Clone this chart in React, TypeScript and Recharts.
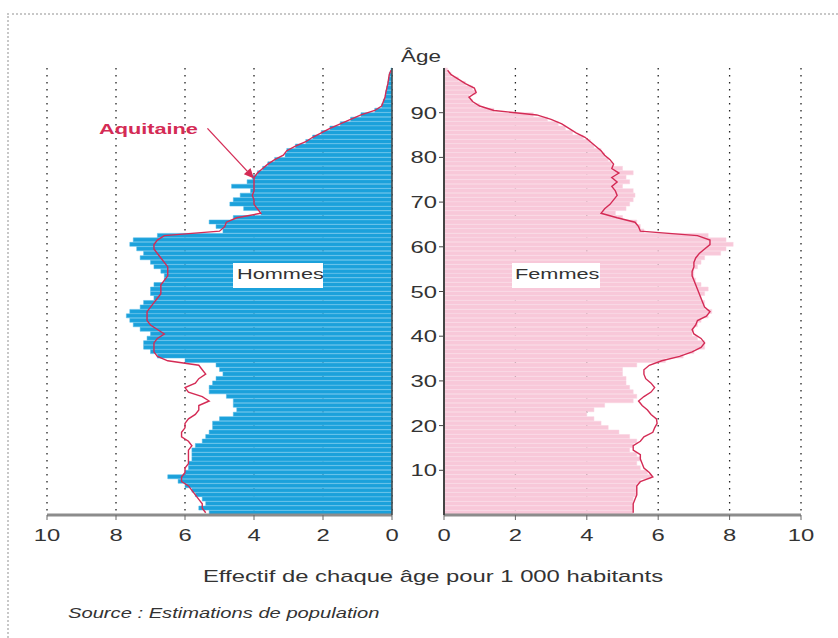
import {
  ComposedChart,
  Bar,
  Line,
  XAxis,
  YAxis,
  CartesianGrid,
  ReferenceLine,
} from "recharts";

// effectif pour 1 000 habitants, index = âge (0 à 99)
const hommes = [
  5.3, 5.6, 5.4, 5.5, 5.7, 5.8, 6.0, 6.2, 6.5, 6.0,
  5.9, 5.9, 5.8, 5.8, 5.8, 5.7, 5.5, 5.4, 5.3, 5.2,
  5.2, 5.0, 4.6, 4.5, 4.6, 4.6, 4.8, 5.3, 5.3, 5.2,
  5.1, 4.9, 5.0, 5.1, 6.0, 6.8, 7.0, 7.2, 7.2, 7.1,
  7.0, 7.3, 7.5, 7.6, 7.7, 7.6, 7.3, 7.2, 6.9, 7.0,
  7.0, 6.9, 6.6, 6.6, 6.7, 6.9, 7.0, 7.3, 7.2, 7.4,
  7.6, 7.5, 6.8, 4.9, 5.1, 5.3, 4.6, 3.8, 4.3, 4.7,
  4.6, 4.4, 4.1, 4.65, 4.2, 4.05, 3.9, 3.75, 3.6, 3.4,
  3.1, 3.05, 2.8, 2.5, 2.3, 2.05, 1.8, 1.5, 1.2, 0.9,
  0.5, 0.3, 0.25, 0.2, 0.18, 0.15, 0.12, 0.1, 0.08, 0.03,
];

const aquitaineHommes = [
  5.4, 5.5, 5.5, 5.6, 5.7, 5.8, 5.9, 6.1, 6.1, 6.0,
  6.0, 5.9, 5.9, 5.9, 5.9, 5.8, 5.9, 6.1, 6.1, 6.0,
  6.0, 5.9, 5.7, 5.6, 5.6, 5.3, 5.5, 5.9, 6.0, 5.7,
  5.6, 5.4, 5.5, 5.6, 6.5, 6.8, 6.9, 6.9, 6.9, 6.8,
  6.6, 6.8, 7.0, 7.1, 7.1, 7.1, 7.0, 6.9, 6.8, 6.7,
  6.7, 6.7, 6.6, 6.5, 6.5, 6.5, 6.6, 6.7, 6.8, 6.9,
  6.9, 6.8, 6.6, 5.0, 4.85, 4.8, 4.5, 3.8, 3.9, 4.0,
  4.0, 4.05, 4.0, 4.0, 4.0, 4.0, 3.9, 3.75, 3.6, 3.4,
  3.15, 3.05, 2.8, 2.5, 2.3, 2.05, 1.8, 1.5, 1.2, 0.9,
  0.5, 0.3, 0.25, 0.2, 0.18, 0.15, 0.12, 0.1, 0.08, 0.03,
];

const femmes = [
  5.3, 5.3, 5.3, 5.3, 5.4, 5.4, 5.4, 5.5, 5.8, 5.7,
  5.5, 5.4, 5.5, 5.4, 5.2, 5.3, 5.4, 5.2, 4.9, 4.6,
  4.4, 4.2, 4.0, 4.2, 4.5, 5.3, 5.4, 5.3, 5.2, 5.1,
  5.1, 5.0, 5.0, 5.4, 6.2, 6.7, 7.0, 7.3, 7.3, 7.1,
  6.95, 7.0, 7.1, 7.2, 7.4, 7.5, 7.3, 7.3, 7.2, 7.3,
  7.4, 7.2, 7.05, 7.0, 7.0, 7.1, 7.2, 7.3, 7.75, 7.9,
  8.1, 7.9, 7.4, 5.6, 5.5, 5.4, 5.0, 4.8, 5.1, 5.2,
  5.3, 5.35, 5.3, 5.0, 5.2, 5.1, 5.3, 5.0, 4.7, 4.6,
  4.5, 4.4, 4.2, 4.1, 3.9, 3.6, 3.4, 3.2, 2.9, 2.5,
  1.4, 1.0, 0.8, 0.7, 0.9, 0.8, 0.6, 0.4, 0.2, 0.1,
];

const aquitaineFemmes = [
  5.3, 5.3, 5.3, 5.35, 5.4, 5.4, 5.4, 5.5, 5.85, 5.75,
  5.6, 5.55, 5.5, 5.5, 5.3, 5.3, 5.5, 5.6, 5.85, 5.9,
  5.97, 5.95, 5.8, 5.7, 5.55, 5.45, 5.6, 5.8, 5.9, 5.8,
  5.65, 5.6, 5.6, 5.75, 6.1, 6.6, 6.95, 7.2, 7.3, 7.2,
  7.0, 6.95, 7.05, 7.1, 7.35, 7.45, 7.3, 7.25, 7.2, 7.15,
  7.1, 7.05, 7.0, 6.95, 6.95, 7.0, 7.0, 7.05, 7.15, 7.3,
  7.45, 7.45, 7.1, 5.5, 5.45, 5.35, 4.85, 4.4, 4.5, 4.65,
  4.75, 4.85, 4.8, 4.7, 4.85, 4.7, 4.9, 4.7, 4.75, 4.65,
  4.5, 4.4, 4.25, 4.1, 3.95, 3.7, 3.5, 3.3, 3.0, 2.6,
  1.4, 1.0, 0.8, 0.7, 0.9, 0.85, 0.6, 0.4, 0.2, 0.1,
];

const valueTicks = [0, 2, 4, 6, 8, 10];
const ageTicks = [10, 20, 30, 40, 50, 60, 70, 80, 90];

const rows = hommes.map((h, i) => ({
  age: i + 0.5,
  hommes: h,
  aqH: aquitaineHommes[i],
  femmes: femmes[i],
  aqF: aquitaineFemmes[i],
}));

const FONT = "'Liberation Sans', Arial, Helvetica, sans-serif";
const STRETCH = 1.4;
const RED = "#d42b55";

const XTick = ({ x, y, payload }: any) => (
  <g transform={`translate(${x},${y})`}>
    <text
      transform={`scale(${STRETCH},1)`}
      textAnchor="middle"
      dy={19}
      fontSize={17}
      fontFamily={FONT}
      fill="#333"
    >
      {payload.value}
    </text>
  </g>
);

const AgeTick = ({ x, y, payload }: any) => (
  <g transform={`translate(${x},${y})`}>
    <text
      transform={`scale(${STRETCH},1)`}
      textAnchor="end"
      dy={6}
      fontSize={17}
      fontFamily={FONT}
      fill="#333"
    >
      {payload.value}
    </text>
  </g>
);

const Arrow = (props: any) => {
  const { x1, y1, x2, y2 } = props;
  const a = Math.atan2(y2 - y1, x2 - x1);
  const L = 10;
  const W = 4.5;
  const bx = x2 - L * Math.cos(a);
  const by = y2 - L * Math.sin(a);
  const px = -Math.sin(a) * W;
  const py = Math.cos(a) * W;
  return (
    <g>
      <line x1={x1} y1={y1} x2={bx} y2={by} stroke={RED} strokeWidth={1.3} />
      <polygon
        points={`${x2},${y2} ${bx + px},${by + py} ${bx - px},${by - py}`}
        fill={RED}
      />
    </g>
  );
};

const label = (extra: React.CSSProperties): React.CSSProperties => ({
  position: "absolute",
  fontFamily: FONT,
  transform: `scaleX(${STRETCH})`,
  transformOrigin: "left center",
  whiteSpace: "nowrap",
  ...extra,
});

export default function App() {
  return (
    <div
      style={{
        position: "relative",
        width: 838,
        height: 638,
        background: "#fff",
        overflow: "hidden",
      }}
    >
      <style>{`body{margin:0}`}</style>
      <div
        style={{
          position: "absolute",
          left: 7,
          top: 13,
          right: 0,
          bottom: 0,
          borderTop: "2px dotted #c8c8c8",
          borderLeft: "2px dotted #c8c8c8",
        }}
      />

      {/* Hommes */}
      <div style={{ position: "absolute", left: 0, top: 0 }}>
        <ComposedChart
          width={400}
          height={560}
          data={rows}
          layout="vertical"
          barCategoryGap={0}
          margin={{ top: 68, right: 0, bottom: 10, left: 47 }}
        >
          <CartesianGrid
            horizontal={false}
            stroke="#222"
            strokeDasharray="1.5 5.5"
            strokeWidth={1.3}
          />
          <XAxis
            type="number"
            domain={[0, 10]}
            ticks={valueTicks}
            reversed
            height={35}
            axisLine={{ stroke: "#8c8c8c", strokeWidth: 3 }}
            tickLine={{ stroke: "#666" }}
            tickSize={5}
            tick={<XTick />}
            interval={0}
          />
          <YAxis
            type="number"
            dataKey="age"
            domain={[0, 100]}
            ticks={ageTicks}
            reversed
            orientation="right"
            width={8}
            axisLine={{ stroke: "#444", strokeWidth: 1.5 }}
            tickLine={{ stroke: "#444" }}
            tickSize={5}
            tick={false}
          />
          <Bar
            dataKey="hommes"
            fill="#1ba1db"
            stroke="#4fb9e6"
            strokeWidth={0.5}
            isAnimationActive={false}
          />
          <Line
            dataKey="aqH"
            type="linear"
            stroke={RED}
            strokeWidth={1.4}
            dot={false}
            isAnimationActive={false}
          />
          <ReferenceLine
            segment={[
              { x: 5.35, y: 86.5 },
              { x: 4.0, y: 75.3 },
            ]}
            shape={<Arrow />}
          />
        </ComposedChart>
      </div>

      {/* Femmes */}
      <div style={{ position: "absolute", left: 390, top: 0 }}>
        <ComposedChart
          width={448}
          height={560}
          data={rows}
          layout="vertical"
          barCategoryGap={0}
          margin={{ top: 68, right: 37, bottom: 10, left: 0 }}
        >
          <CartesianGrid
            horizontal={false}
            stroke="#222"
            strokeDasharray="1.5 5.5"
            strokeWidth={1.3}
          />
          <XAxis
            type="number"
            domain={[0, 10]}
            ticks={valueTicks}
            height={35}
            axisLine={{ stroke: "#8c8c8c", strokeWidth: 3 }}
            tickLine={{ stroke: "#666" }}
            tickSize={5}
            tick={<XTick />}
            interval={0}
          />
          <YAxis
            type="number"
            dataKey="age"
            domain={[0, 100]}
            ticks={ageTicks}
            reversed
            width={54}
            axisLine={{ stroke: "#444", strokeWidth: 2 }}
            tickLine={{ stroke: "#444" }}
            tickSize={5}
            tickMargin={2}
            tick={<AgeTick />}
          />
          <Bar
            dataKey="femmes"
            fill="#f8c8d9"
            stroke="#f9d2e0"
            strokeWidth={0.5}
            isAnimationActive={false}
          />
          <Line
            dataKey="aqF"
            type="linear"
            stroke={RED}
            strokeWidth={1.4}
            dot={false}
            isAnimationActive={false}
          />
        </ComposedChart>
      </div>

      <div style={label({ left: 401, top: 48, fontSize: 16, color: "#333" })}>
        Âge
      </div>
      <div
        style={label({
          left: 99,
          top: 120,
          fontSize: 15.5,
          fontWeight: "bold",
          color: RED,
        })}
      >
        Aquitaine
      </div>
      <div
        style={{
          position: "absolute",
          left: 233,
          top: 263,
          width: 90,
          height: 25,
          background: "#fff",
        }}
      />
      <div style={label({ left: 237, top: 265, fontSize: 15.5, color: "#333" })}>
        Hommes
      </div>
      <div
        style={{
          position: "absolute",
          left: 512,
          top: 263,
          width: 88,
          height: 25,
          background: "#fff",
        }}
      />
      <div style={label({ left: 515, top: 265, fontSize: 15.5, color: "#333" })}>
        Femmes
      </div>
      <div style={label({ left: 203, top: 567, fontSize: 17, color: "#333" })}>
        Effectif de chaque âge pour 1 000 habitants
      </div>
      <div
        style={label({
          left: 68,
          top: 604,
          fontSize: 15.5,
          fontStyle: "italic",
          color: "#333",
          transform: "scaleX(1.3)",
        })}
      >
        Source : Estimations de population
      </div>
    </div>
  );
}
